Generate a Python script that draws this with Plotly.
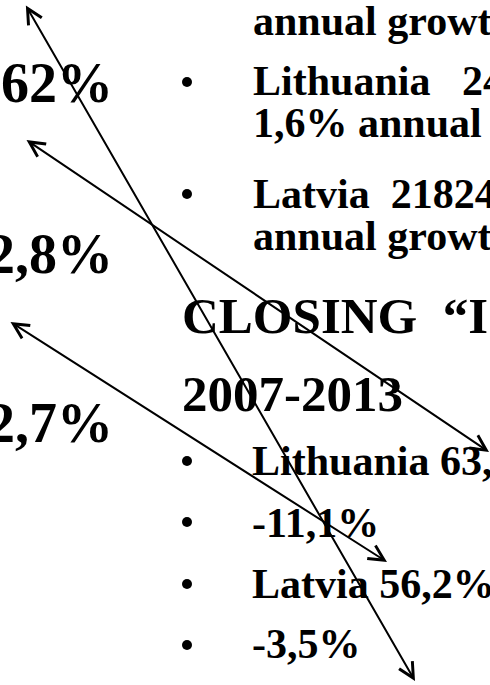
import plotly.graph_objects as go

# ---- content (text) ----
left_numbers = ["62%", "2,8%", "2,7%"]
upper_lines = ["annual growth", "Lithuania\u00a0\u00a0\u00a024", "1,6% annual growth",
               "Latvia\u00a0\u00a021824", "annual growth"]
heading_lines = ["CLOSING\u00a0\u00a0“I", "2007-2013"]
closing_lines = ["Lithuania 63,", "-11,1%", "Latvia 56,2%", "-3,5%"]

# ---- layout positions (pixels, y downward) ----
W, H = 490, 685
left_right_x = 115
left_baselines = [102, 273, 442]
upper_x = 251
upper_baselines = [35, 95, 137, 208, 250]
heading_x = 180
heading_baselines = [333, 411]
closing_x = 250
closing_baselines = [475, 537, 598, 658]
bullet_x = [187, 187, 187, 187, 187, 187]
bullet_y = [82, 194, 461, 522, 584, 645]
# double-headed arrows: (x0, y0, x1, y1)
arrows = [(25, 4, 415, 681), (25, 139, 489, 452), (9, 321, 387, 562)]

LEFT_SIZE = 56
BODY_SIZE = 42
HEAD_SIZE = 51
FONT = "Liberation Serif"
ASC = 0.891
DESC = 0.216


def center_from_baseline(b, size):
    return b - (ASC - (ASC + DESC) / 2) * size


fig = go.Figure()
fig.add_trace(go.Scatter(x=bullet_x, y=bullet_y, mode="markers",
                         marker=dict(size=10, color="black"),
                         hoverinfo="skip", showlegend=False))

annotations = []


def add_text(txt, x, base, size, anchor):
    annotations.append(dict(
        x=x, y=center_from_baseline(base, size), xref="x", yref="y",
        text=txt, showarrow=False, xanchor=anchor, yanchor="middle",
        font=dict(family=FONT, size=size, color="black", weight="bold")))


for t, b in zip(left_numbers, left_baselines):
    add_text(t, left_right_x, b, LEFT_SIZE, "right")
for t, b in zip(upper_lines, upper_baselines):
    add_text(t, upper_x, b, BODY_SIZE, "left")
for t, b in zip(heading_lines, heading_baselines):
    add_text(t, heading_x, b, HEAD_SIZE, "left")
for t, b in zip(closing_lines, closing_baselines):
    add_text(t, closing_x, b, BODY_SIZE, "left")

for (x0, y0, x1, y1) in arrows:
    annotations.append(dict(
        x=x1, y=y1, ax=x0, ay=y0, xref="x", yref="y", axref="x", ayref="y",
        text="", showarrow=True, arrowside="end+start",
        arrowhead=5, startarrowhead=5, arrowsize=1.5, startarrowsize=1.5,
        arrowwidth=2, arrowcolor="black"))

fig.update_layout(
    width=W, height=H,
    margin=dict(l=0, r=0, t=0, b=0),
    paper_bgcolor="white", plot_bgcolor="white",
    xaxis=dict(range=[0, W], visible=False, fixedrange=True),
    yaxis=dict(range=[H, 0], visible=False, fixedrange=True),
    annotations=annotations,
    showlegend=False,
)

fig.write_html(
    "out.html",
    config={"displayModeBar": False},
    post_script="document.body.style.margin='0';document.body.style.overflow='hidden';",
)
